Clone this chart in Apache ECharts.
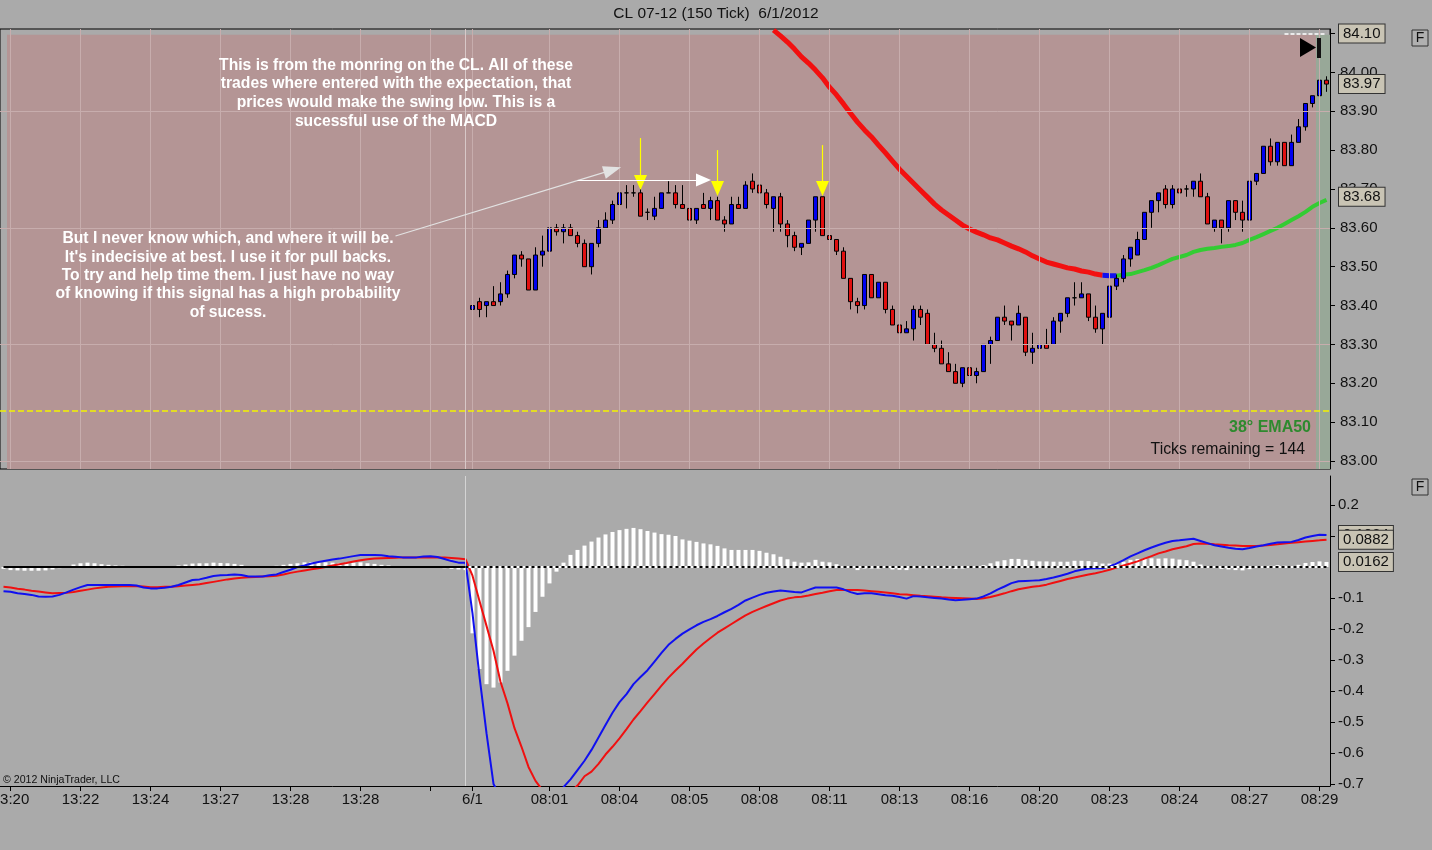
<!DOCTYPE html>
<html><head><meta charset="utf-8">
<script src="https://cdn.jsdelivr.net/npm/echarts@6/dist/echarts.min.js"></script>
<style>html,body{margin:0;padding:0;background:#AAAAAA;overflow:hidden}#c{width:1432px;height:850px}</style>
</head><body><div id="c"></div>
<script>
// ---------- axis ticks ----------
const barCount = 190;
const tickIndex = [1,11,21,31,41,51,61,67,78,88,98,108,118,128,138,148,158,168,178,188];
const tickText  = ['13:20','13:22','13:24','13:27','13:28','13:28','','6/1','08:01','08:04','08:05','08:08','08:11','08:13','08:16','08:20','08:23','08:24','08:27','08:29'];
const priceTicks = [83.0,83.1,83.2,83.3,83.4,83.5,83.6,83.7,83.8,83.9,84.0,84.1];
const priceGridLevels = [83.0,83.3,83.6,83.9];
const macdTicks = [0.2,0.1,-0.1,-0.2,-0.3,-0.4,-0.5,-0.6,-0.7];
const sessionStart = 66;   // session break bar
const firstBar = 67;       // first candle of 6/1 shown

// ---------- candles (bars 67..189) ----------
const open = [83.39,83.41,83.40,83.41,83.41,83.43,83.48,83.53,83.52,83.44,
 83.53,83.54,83.60,83.59,83.60,83.58,83.56,83.50,83.56,83.60,
 83.62,83.66,83.69,83.69,83.69,83.64,83.63,83.65,83.69,83.69,
 83.66,83.65,83.62,83.66,83.65,83.67,83.62,83.61,83.66,83.65,
 83.72,83.71,83.69,83.65,83.68,83.61,83.58,83.55,83.56,83.62,
 83.68,83.58,83.57,83.54,83.47,83.41,83.40,83.48,83.42,83.46,
 83.39,83.35,83.33,83.34,83.39,83.38,83.30,83.29,83.25,83.23,
 83.20,83.24,83.22,83.23,83.30,83.31,83.37,83.36,83.35,83.37,
 83.28,83.29,83.30,83.30,83.36,83.38,83.42,83.42,83.43,83.37,
 83.34,83.37,83.45,83.47,83.52,83.53,83.57,83.64,83.67,83.70,
 83.66,83.70,83.70,83.70,83.72,83.68,83.60,83.62,83.60,83.67,
 83.64,83.62,83.72,83.74,83.81,83.77,83.82,83.76,83.82,83.86,
 83.92,83.94,83.98];
const close = [83.40,83.39,83.41,83.40,83.43,83.48,83.53,83.52,83.44,83.53,
 83.54,83.60,83.59,83.60,83.58,83.56,83.50,83.56,83.60,83.62,
 83.66,83.69,83.69,83.69,83.63,83.64,83.65,83.69,83.69,83.66,
 83.65,83.62,83.65,83.65,83.67,83.62,83.61,83.66,83.65,83.71,
 83.70,83.69,83.66,83.68,83.61,83.58,83.55,83.56,83.62,83.68,
 83.58,83.57,83.54,83.47,83.41,83.40,83.48,83.42,83.46,83.39,
 83.35,83.33,83.34,83.39,83.37,83.30,83.29,83.25,83.23,83.20,
 83.24,83.22,83.23,83.30,83.31,83.37,83.36,83.35,83.38,83.28,
 83.29,83.30,83.29,83.36,83.38,83.42,83.42,83.43,83.37,83.34,
 83.38,83.45,83.47,83.52,83.55,83.57,83.64,83.67,83.69,83.66,
 83.70,83.69,83.70,83.72,83.68,83.61,83.62,83.60,83.67,83.64,
 83.62,83.72,83.74,83.81,83.77,83.82,83.76,83.82,83.86,83.92,
 83.94,83.98,83.97];
const low = [83.37,83.37,83.37,83.40,83.40,83.42,83.47,83.50,83.44,83.44,
 83.50,83.54,83.58,83.56,83.58,83.55,83.50,83.48,83.55,83.60,
 83.61,83.65,83.65,83.68,83.63,83.62,83.62,83.65,83.69,83.65,
 83.65,83.61,83.61,83.65,83.62,83.62,83.59,83.61,83.65,83.65,
 83.69,83.68,83.65,83.59,83.59,83.55,83.54,83.53,83.56,83.59,
 83.58,83.53,83.53,83.47,83.39,83.38,83.39,83.42,83.42,83.38,
 83.35,83.29,83.33,83.31,83.35,83.30,83.28,83.25,83.23,83.20,
 83.19,83.17,83.20,83.23,83.25,83.31,83.35,83.31,83.35,83.27,
 83.25,83.29,83.29,83.30,83.33,83.37,83.40,83.42,83.36,83.33,
 83.30,83.37,83.44,83.46,83.50,83.53,83.57,83.60,83.64,83.65,
 83.65,83.68,83.68,83.68,83.68,83.61,83.59,83.56,83.59,83.62,
 83.59,83.62,83.71,83.74,83.76,83.76,83.76,83.76,83.82,83.85,
 83.91,83.94,83.95];
const high = [83.42,83.42,83.41,83.45,83.46,83.49,83.53,83.54,83.52,83.55,
 83.58,83.60,83.61,83.61,83.61,83.59,83.57,83.56,83.62,83.64,
 83.67,83.70,83.71,83.71,83.70,83.65,83.68,83.69,83.72,83.71,
 83.71,83.65,83.65,83.69,83.68,83.68,83.63,83.68,83.68,83.72,
 83.74,83.72,83.70,83.68,83.69,83.62,83.59,83.56,83.62,83.68,
 83.68,83.59,83.57,83.55,83.47,83.42,83.48,83.48,83.46,83.46,
 83.40,83.35,83.36,83.40,83.40,83.39,83.33,83.31,83.28,83.25,
 83.24,83.24,83.24,83.30,83.32,83.37,83.40,83.36,83.40,83.37,
 83.33,83.32,83.34,83.37,83.38,83.42,83.46,83.46,83.43,83.40,
 83.38,83.45,83.48,83.53,83.55,83.59,83.64,83.67,83.69,83.71,
 83.71,83.74,83.71,83.72,83.74,83.69,83.62,83.62,83.67,83.67,
 83.67,83.72,83.74,83.81,83.83,83.82,83.82,83.84,83.88,83.92,
 83.94,83.98,83.99];

// ---------- EMA50 (bars 110..189) ----------
const emaStart = 110;
const ema50 = [84.109,84.094,84.078,84.060,84.040,84.024,84.006,83.986,83.962,83.942,
 83.919,83.895,83.872,83.852,83.834,83.813,83.793,83.772,83.751,83.733,
 83.715,83.697,83.679,83.661,83.646,83.633,83.620,83.607,83.597,83.589,
 83.582,83.574,83.569,83.561,83.553,83.546,83.538,83.528,83.520,83.512,
 83.507,83.502,83.497,83.494,83.489,83.486,83.481,83.478,83.477,83.477,
 83.479,83.481,83.486,83.491,83.497,83.504,83.512,83.520,83.525,83.530,
 83.538,83.543,83.546,83.548,83.551,83.553,83.556,83.561,83.569,83.576,
 83.584,83.592,83.600,83.610,83.620,83.630,83.641,83.654,83.664,83.672];
const emaRedEnd = 157, emaBlueEnd = 159;

// ---------- MACD (bars 0..189) ----------
const macd = [-0.078,-0.080,-0.085,-0.087,-0.090,-0.095,-0.096,-0.095,-0.090,-0.082,
 -0.073,-0.065,-0.058,-0.058,-0.058,-0.058,-0.058,-0.058,-0.058,-0.060,
 -0.066,-0.069,-0.069,-0.067,-0.064,-0.058,-0.050,-0.042,-0.040,-0.035,
 -0.029,-0.027,-0.026,-0.024,-0.026,-0.031,-0.031,-0.031,-0.027,-0.024,
 -0.016,-0.009,0.000,0.005,0.011,0.016,0.020,0.024,0.027,0.031,
 0.035,0.039,0.039,0.039,0.038,0.035,0.033,0.031,0.031,0.031,
 0.034,0.035,0.032,0.026,0.019,0.014,0.014,-0.150,-0.354,-0.536,
 -0.700,-0.740,-0.770,-0.790,-0.810,-0.820,-0.830,-0.810,-0.790,-0.750,
 -0.710,-0.685,-0.655,-0.625,-0.590,-0.550,-0.510,-0.470,-0.436,-0.410,
 -0.378,-0.355,-0.333,-0.305,-0.277,-0.251,-0.232,-0.215,-0.201,-0.188,
 -0.177,-0.168,-0.158,-0.146,-0.135,-0.122,-0.108,-0.099,-0.090,-0.083,
 -0.079,-0.076,-0.078,-0.081,-0.082,-0.074,-0.066,-0.066,-0.066,-0.066,
 -0.072,-0.081,-0.087,-0.085,-0.085,-0.088,-0.091,-0.093,-0.097,-0.102,
 -0.094,-0.095,-0.098,-0.100,-0.102,-0.105,-0.107,-0.106,-0.104,-0.102,
 -0.095,-0.085,-0.073,-0.063,-0.052,-0.046,-0.045,-0.044,-0.043,-0.039,
 -0.034,-0.028,-0.022,-0.014,-0.009,-0.005,-0.004,-0.004,0.002,0.011,
 0.022,0.034,0.044,0.054,0.063,0.071,0.078,0.084,0.086,0.089,
 0.091,0.084,0.077,0.070,0.066,0.062,0.059,0.057,0.061,0.066,
 0.070,0.075,0.079,0.080,0.081,0.087,0.095,0.100,0.104,0.1034];
const macdAvg = [-0.064,-0.066,-0.070,-0.073,-0.077,-0.079,-0.082,-0.085,-0.084,-0.083,
 -0.081,-0.077,-0.073,-0.069,-0.066,-0.064,-0.063,-0.062,-0.061,-0.062,
 -0.063,-0.065,-0.065,-0.064,-0.064,-0.062,-0.060,-0.058,-0.056,-0.052,
 -0.048,-0.044,-0.040,-0.037,-0.035,-0.033,-0.032,-0.031,-0.030,-0.028,
 -0.024,-0.019,-0.015,-0.011,-0.007,-0.004,0.000,0.005,0.009,0.013,
 0.018,0.022,0.025,0.027,0.028,0.029,0.030,0.031,0.031,0.031,
 0.031,0.031,0.031,0.031,0.029,0.027,0.025,-0.028,-0.110,-0.190,
 -0.270,-0.370,-0.440,-0.520,-0.580,-0.645,-0.690,-0.720,-0.740,-0.745,
 -0.740,-0.725,-0.705,-0.675,-0.660,-0.635,-0.605,-0.580,-0.553,-0.523,
 -0.492,-0.465,-0.437,-0.410,-0.383,-0.357,-0.334,-0.312,-0.289,-0.266,
 -0.247,-0.229,-0.212,-0.198,-0.184,-0.170,-0.156,-0.145,-0.135,-0.126,
 -0.117,-0.108,-0.102,-0.098,-0.096,-0.092,-0.087,-0.083,-0.078,-0.074,
 -0.074,-0.074,-0.074,-0.076,-0.078,-0.080,-0.082,-0.085,-0.088,-0.089,
 -0.091,-0.093,-0.094,-0.096,-0.098,-0.099,-0.100,-0.101,-0.102,-0.103,
 -0.101,-0.097,-0.091,-0.085,-0.078,-0.072,-0.068,-0.064,-0.061,-0.057,
 -0.051,-0.045,-0.039,-0.034,-0.029,-0.024,-0.020,-0.015,-0.009,-0.002,
 0.005,0.011,0.018,0.027,0.035,0.044,0.050,0.057,0.062,0.067,
 0.074,0.076,0.075,0.073,0.072,0.070,0.069,0.068,0.068,0.068,
 0.069,0.071,0.073,0.076,0.078,0.080,0.082,0.084,0.086,0.0882];
const macdDiff = [-0.006,-0.010,-0.011,-0.012,-0.012,-0.012,-0.011,-0.008,-0.004,0.002,
 0.008,0.012,0.014,0.012,0.009,0.007,0.005,0.004,0.003,0.002,
 0.002,0.001,0.001,0.000,0.002,0.005,0.008,0.011,0.012,0.012,
 0.014,0.013,0.012,0.010,0.007,0.003,0.001,0.001,0.003,0.004,
 0.007,0.010,0.012,0.015,0.016,0.016,0.015,0.014,0.013,0.013,
 0.014,0.015,0.012,0.010,0.007,0.005,0.003,0.001,0.000,0.000,
 0.000,0.000,-0.001,-0.004,-0.006,-0.008,-0.010,-0.214,-0.329,-0.378,
 -0.389,-0.373,-0.335,-0.286,-0.238,-0.194,-0.145,-0.096,-0.053,-0.015,
 0.014,0.039,0.055,0.069,0.082,0.095,0.105,0.113,0.119,0.123,
 0.126,0.122,0.116,0.111,0.106,0.104,0.100,0.089,0.085,0.081,
 0.076,0.073,0.068,0.060,0.055,0.055,0.055,0.055,0.052,0.046,
 0.041,0.033,0.025,0.017,0.014,0.015,0.023,0.017,0.015,0.009,
 0.003,-0.003,-0.010,-0.005,-0.005,-0.005,-0.003,-0.008,-0.009,-0.010,
 -0.004,-0.003,-0.004,-0.004,-0.004,-0.005,-0.006,-0.005,-0.003,0.001,
 0.006,0.012,0.018,0.022,0.026,0.026,0.023,0.020,0.018,0.018,
 0.017,0.017,0.017,0.020,0.020,0.019,0.016,0.011,0.011,0.013,
 0.017,0.023,0.026,0.027,0.028,0.027,0.028,0.027,0.024,0.022,
 0.017,0.008,0.002,-0.003,-0.006,-0.008,-0.010,-0.011,-0.007,-0.002,
 0.001,0.004,0.006,0.004,0.003,0.007,0.013,0.016,0.018,0.0162];

// ---------- markers / annotations (data units) ----------
const lastPrice = 83.97, emaLast = 83.68, topMarker = 84.10, yellowLevel = 83.13;
const macdLabels = [0.1034, 0.0882, 0.0162];
const sessionTop = 84.097;           // top of shaded session region
const shadeFirst = 1, shadeLastPink = 187;
const yellowArrows = [[91, 83.831, 83.717], [102, 83.800, 83.701], [117, 83.813, 83.701]];
const noteArrow1 = [[56, 83.579], [87, 83.749]];
const noteArrow2 = [[82, 83.723], [100, 83.723]];

// ---------- build ----------
const FONT = '"Liberation Sans", Arial, sans-serif';
const cats = Array.from({length: barCount}, (_, i) => String(i));
const labelMap = {}; tickIndex.forEach((k, j) => labelMap[k] = tickText[j]);
const tickSet = new Set(tickIndex);
const candleData = open.map((o, k) => [k + firstBar, o, close[k], low[k], high[k]]);
const emaPts = ema50.map((v, k) => [k + emaStart, v]);
const emaRed = emaPts.filter(p => p[0] <= emaRedEnd);
const emaBlue = emaPts.filter(p => p[0] >= emaRedEnd && p[0] <= emaBlueEnd);
const emaGreen = emaPts.filter(p => p[0] >= emaBlueEnd);
const bgData = cats.map((c, i) => {
  if (i < shadeFirst) return '-';
  return {value: sessionTop, itemStyle: {color: i <= shadeLastPink ? '#B49595' : '#98A898'}};
});
const gridLineColor = '#C7ADAD';
const priceMarkLines = tickIndex.map(k => ({xAxis: k, lineStyle: {color: gridLineColor, width: 1, type: 'solid'}}))
  .concat(priceGridLevels.map(v => ({yAxis: v, lineStyle: {color: gridLineColor, width: 1, type: 'solid'}})))
  .concat([{xAxis: sessionStart, lineStyle: {color: '#D8C8C8', width: 1, type: 'solid'}}]);

const HIDDEN = 'rgba(0,0,0,0)';
const boxLabel = (text) => ({
  show: true, position: 'end', distance: 9,
  formatter: () => text,
  backgroundColor: '#C9C4B4', borderColor: '#333', borderWidth: 1,
  padding: [2, 4, 1, 4], color: '#111', fontSize: 15, fontFamily: FONT
});
const arrowPair = (a, b, color, size) => [
  {coord: a, symbol: 'none', lineStyle: {color: color, width: 1.2, type: 'solid'}},
  {coord: b, symbol: 'triangle', symbolSize: size}
];
const boxLine = (v, digits) => ({yAxis: v, symbol: 'none', lineStyle: {color: HIDDEN, width: 1, type: 'solid'}, label: boxLabel(v.toFixed(digits))});

const option = {
  animation: false,
  backgroundColor: '#AAAAAA',
  textStyle: {fontFamily: FONT},
  grid: [
    {left: 0, width: 1330, top: 29, height: 440, show: true, borderColor: '#000', borderWidth: 1, backgroundColor: 'transparent', outerBoundsMode: 'none', containLabel: false},
    {left: 0, width: 1330, top: 476, height: 310, show: false, outerBoundsMode: 'none', containLabel: false}
  ],
  xAxis: [
    {type: 'category', gridIndex: 0, data: cats, boundaryGap: true,
     axisLine: {show: false}, axisTick: {show: false}, axisLabel: {show: false}, splitLine: {show: false}},
    {type: 'category', gridIndex: 1, data: cats, boundaryGap: true,
     axisLine: {show: true, onZero: false, lineStyle: {color: '#000', width: 1}},
     axisTick: {show: true, alignWithLabel: true, interval: (i) => tickSet.has(i), length: 5, lineStyle: {color: '#000'}},
     axisLabel: {interval: (i) => tickSet.has(i), formatter: (v) => labelMap[v] || '', color: '#111', fontSize: 15, margin: 6, fontFamily: FONT},
     splitLine: {show: false}}
  ],
  yAxis: [
    {type: 'value', gridIndex: 0, position: 'right', min: 82.9794, max: 84.1117,
     axisLine: {show: true, lineStyle: {color: '#000'}},
     axisTick: {show: true, customValues: priceTicks, length: 5, lineStyle: {color: '#000'}},
     axisLabel: {customValues: priceTicks, formatter: v => v.toFixed(2), color: '#111', fontSize: 15, margin: 10, fontFamily: FONT},
     splitLine: {show: false}},
    {type: 'value', gridIndex: 1, position: 'right', min: -0.7065, max: 0.2935,
     axisLine: {show: true, lineStyle: {color: '#000'}},
     axisTick: {show: true, customValues: macdTicks, length: 5, lineStyle: {color: '#000'}},
     axisLabel: {customValues: macdTicks, formatter: v => String(Math.round(v * 10) / 10), color: '#111', fontSize: 15, margin: 8, fontFamily: FONT},
     splitLine: {show: false}}
  ],
  series: [
    {type: 'bar', name: 'session', xAxisIndex: 0, yAxisIndex: 0, data: bgData, barWidth: '100%', barGap: '0%',
     silent: true, z: 0, clip: true,
     markLine: {silent: true, symbol: 'none', label: {show: false}, animation: false, data: priceMarkLines}},
    {type: 'line', name: 'yellow', xAxisIndex: 0, yAxisIndex: 0, data: [], silent: true, z: 1,
     markLine: {silent: true, symbol: 'none', label: {show: false}, data: [
       {yAxis: yellowLevel, lineStyle: {color: '#F2F200', width: 1.6, type: [6, 3]}},
       [{coord: [183, topMarker], lineStyle: {color: '#FFFFFF', width: 1.5, type: [4, 2]}}, {coord: [189, topMarker]}]
     ]}},
    {type: 'line', name: 'EMA50r', xAxisIndex: 0, yAxisIndex: 0, data: emaRed, symbol: 'none', silent: true, z: 2,
     lineStyle: {color: '#F21010', width: 5}},
    {type: 'line', name: 'EMA50b', xAxisIndex: 0, yAxisIndex: 0, data: emaBlue, symbol: 'none', silent: true, z: 2,
     lineStyle: {color: '#1010F0', width: 5}},
    {type: 'line', name: 'EMA50g', xAxisIndex: 0, yAxisIndex: 0, data: emaGreen, symbol: 'none', silent: true, z: 2,
     lineStyle: {color: '#33CC33', width: 4}},
    {type: 'candlestick', name: 'CL', xAxisIndex: 0, yAxisIndex: 0, data: candleData,
     encode: {x: 0, y: [1, 2, 3, 4]}, barWidth: 5, silent: true, z: 3,
     itemStyle: {color: '#0000F0', color0: '#E01010', borderColor: '#000', borderColor0: '#000', borderColorDoji: '#000', borderWidth: 1},
     markLine: {silent: true, animation: false, label: {show: false}, data: [
       ...yellowArrows.map(a => arrowPair([a[0], a[1]], [a[0], a[2]], '#FFFF00', [13, 15])),
       arrowPair(noteArrow1[0], noteArrow1[1], '#E2E2E2', [13, 18]),
       arrowPair(noteArrow2[0], noteArrow2[1], '#FFFFFF', [13, 15])
     ]}},
    {type: 'line', name: 'priceBoxes', xAxisIndex: 0, yAxisIndex: 0, data: [], silent: true, z: 8,
     markLine: {silent: true, symbol: 'none', animation: false, precision: 4, data: [
       boxLine(topMarker, 2), boxLine(lastPrice, 2), boxLine(emaLast, 2)
     ]}},
    {type: 'bar', name: 'Diff', xAxisIndex: 1, yAxisIndex: 1, data: macdDiff, barWidth: 4, silent: true, z: 1,
     itemStyle: {color: '#FFFFFF'},
     markLine: {silent: true, symbol: 'none', label: {show: false}, data: [
       {xAxis: sessionStart, lineStyle: {color: '#D4D4D4', width: 1, type: 'solid'}},
       [{coord: [0, 0], lineStyle: {color: '#000', width: 2, type: 'solid'}}, {coord: [sessionStart, 0]}],
       [{coord: [sessionStart, 0], lineStyle: {color: '#FFFFFF', width: 2, type: 'solid'}}, {coord: [barCount - 1, 0]}],
       [{coord: [sessionStart, 0], lineStyle: {color: '#000', width: 2, type: [3, 3]}}, {coord: [barCount - 1, 0]}]
     ]}},
    {type: 'line', name: 'Avg', xAxisIndex: 1, yAxisIndex: 1, data: macdAvg, symbol: 'none', silent: true, z: 2,
     lineStyle: {color: '#F01010', width: 2}},
    {type: 'line', name: 'MACD', xAxisIndex: 1, yAxisIndex: 1, data: macd, symbol: 'none', silent: true, z: 3,
     lineStyle: {color: '#1010F0', width: 2}},
    {type: 'line', name: 'macdBoxes', xAxisIndex: 1, yAxisIndex: 1, data: [], silent: true, z: 8,
     markLine: {silent: true, symbol: 'none', animation: false, precision: 6, data: macdLabels.map(v => boxLine(v, 4))}}
  ],
  graphic: [
    {type: 'text', x: 716, y: 14, z: 10, style: {text: 'CL 07-12 (150 Tick)  6/1/2012', font: '15.5px ' + FONT, fill: '#111', align: 'center', verticalAlign: 'middle', textAlign: 'center', textVerticalAlign: 'middle'}},
    {type: 'text', x: 396, y: 56, z: 10, style: {text: 'This is from the monring on the CL. All of these\ntrades where entered with the expectation, that\nprices would make the swing low. This is a\nsucessful use of the MACD', font: 'bold 15.7px ' + FONT, lineHeight: 18.7, fill: '#FFFFFF', align: 'center', textAlign: 'center'}},
    {type: 'text', x: 228, y: 230, z: 10, style: {text: 'But I never know which, and where it will be.\nIt\'s indecisive at best. I use it for pull backs.\nTo try and help time them. I just have no way\nof knowing if this signal has a high probability\nof sucess.', font: 'bold 15.7px ' + FONT, lineHeight: 18.3, fill: '#FFFFFF', align: 'center', textAlign: 'center'}},
    {type: 'text', x: 1311, y: 428, z: 10, style: {text: '38° EMA50', font: 'bold 16px ' + FONT, fill: '#2E8A2E', align: 'right', textAlign: 'right', verticalAlign: 'middle', textVerticalAlign: 'middle'}},
    {type: 'text', x: 1305, y: 450, z: 10, style: {text: 'Ticks remaining = 144', font: '15.8px ' + FONT, fill: '#111', align: 'right', textAlign: 'right', verticalAlign: 'middle', textVerticalAlign: 'middle'}},
    {type: 'text', x: 3, y: 780, z: 10, style: {text: '© 2012 NinjaTrader, LLC', font: '10.6px ' + FONT, fill: '#111', verticalAlign: 'middle', textVerticalAlign: 'middle'}},
    {type: 'polygon', z: 10, shape: {points: [[1300, 38], [1300, 57], [1316, 47.5]]}, style: {fill: '#000'}},
    {type: 'rect', z: 10, shape: {x: 1317, y: 38, width: 4, height: 20}, style: {fill: '#111'}},
    {type: 'rect', z: 10, shape: {x: 1412, y: 30, width: 16, height: 16}, style: {fill: '#B0B0B0', stroke: '#333', lineWidth: 1}},
    {type: 'text', x: 1420, y: 38.5, z: 11, style: {text: 'F', font: '14px ' + FONT, fill: '#111', align: 'center', verticalAlign: 'middle', textAlign: 'center', textVerticalAlign: 'middle'}},
    {type: 'rect', z: 10, shape: {x: 1412, y: 479, width: 16, height: 16}, style: {fill: '#B0B0B0', stroke: '#333', lineWidth: 1}},
    {type: 'text', x: 1420, y: 487.5, z: 11, style: {text: 'F', font: '14px ' + FONT, fill: '#111', align: 'center', verticalAlign: 'middle', textAlign: 'center', textVerticalAlign: 'middle'}}
  ]
};
const chart = echarts.init(document.getElementById('c'), null, {renderer: 'canvas'});
chart.setOption(option);
</script>
</body></html>
